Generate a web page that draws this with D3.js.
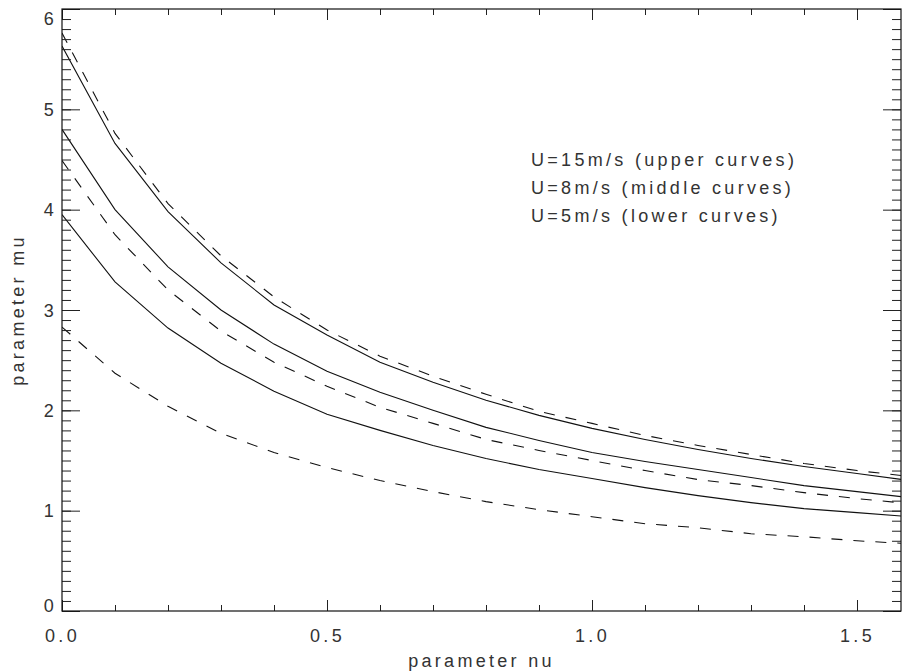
<!DOCTYPE html>
<html lang="en">
	<head>
		<meta charset="utf-8">
		<title>parameter mu vs nu</title>
		<script type="text/javascript" src="https://cdn.jsdelivr.net/npm/d3@7/dist/d3.min.js"></script>
		<style type="text/css">
			body { margin: 0; background: #fff; }
			text { font-family: "Liberation Sans", Arial, sans-serif; font-size: 18px; fill: #333; letter-spacing: 3.3px; }
		</style>
	</head>

	<body>
        <script type="text/javascript">

            // chart width and height
			var w = 902;
			var h = 671;
			var pLeft = 62, pRight = 901, pTop = 9, pBottom = 611;

            // data
            var nu = [0, 0.1, 0.2, 0.3, 0.4, 0.5, 0.6, 0.7, 0.8, 0.9, 1.0, 1.1, 1.2, 1.3, 1.4, 1.5, 1.6];
            var upperSolid  = [5.63, 4.66, 3.98, 3.47, 3.05, 2.75, 2.48, 2.28, 2.10, 1.95, 1.82, 1.71, 1.61, 1.52, 1.44, 1.37, 1.30];
            var upperDashed = [5.76, 4.76, 4.06, 3.54, 3.13, 2.80, 2.54, 2.34, 2.16, 1.99, 1.87, 1.75, 1.65, 1.56, 1.47, 1.40, 1.34];
            var midSolid    = [4.80, 4.00, 3.43, 3.00, 2.66, 2.39, 2.18, 2.00, 1.83, 1.70, 1.58, 1.49, 1.41, 1.33, 1.25, 1.19, 1.13];
            var midDashed   = [4.49, 3.75, 3.20, 2.79, 2.48, 2.24, 2.03, 1.87, 1.71, 1.60, 1.50, 1.40, 1.31, 1.25, 1.18, 1.12, 1.07];
            var lowSolid    = [3.95, 3.28, 2.82, 2.47, 2.19, 1.96, 1.80, 1.65, 1.52, 1.41, 1.32, 1.23, 1.15, 1.08, 1.02, 0.98, 0.94];
            var lowDashed   = [2.83, 2.37, 2.04, 1.77, 1.58, 1.43, 1.30, 1.19, 1.09, 1.01, 0.94, 0.87, 0.83, 0.77, 0.74, 0.70, 0.67];

            var xTicks = [0, 0.5, 1.0, 1.5];
            var yTicks = [0, 1, 2, 3, 4, 5, 6];
            var legendLines = ["U=15m/s (upper curves)", "U=8m/s (middle curves)", "U=5m/s (lower curves)"];

            var series = [
                { values: upperSolid, dashed: false },
                { values: upperDashed, dashed: true },
                { values: midSolid, dashed: false },
                { values: midDashed, dashed: true },
                { values: lowSolid, dashed: false },
                { values: lowDashed, dashed: true }
            ];

            var xScale = d3.scaleLinear().domain([0, 1.583]).range([pLeft, pRight]);
            var yScale = d3.scaleLinear().domain([0, 6]).range([pBottom, pTop]);

			var svg = d3.select("body")
						.append("svg")
						.attr("width", w)
						.attr("height", h);

            svg.append("clipPath").attr("id", "plotclip")
                .append("rect")
                .attr("x", pLeft).attr("y", pTop)
                .attr("width", pRight - pLeft).attr("height", pBottom - pTop);

            // curves
            var line = d3.line()
                .x(function(d, i) { return xScale(nu[i]); })
                .y(function(d) { return yScale(d); });

            svg.append("g")
                .attr("clip-path", "url(#plotclip)")
                .selectAll("path")
                .data(series)
                .enter()
                .append("path")
                .attr("d", function(d) { return line(d.values); })
                .attr("fill", "none")
                .attr("stroke", "#111")
                .attr("stroke-width", 1.1)
                .attr("stroke-dasharray", function(d) { return d.dashed ? "11,11" : null; });

            // axes: ticks pointing inward on all four sides
            var xMinor = d3.range(0, 16).map(function(i) { return i / 10; });
            var yMinor = d3.range(0, 61).map(function(i) { return i / 10; });

            function styleAxis(g) {
                g.select(".domain").remove();
                g.selectAll("line").attr("stroke", "#222").attr("stroke-width", 1);
            }

            svg.append("g").attr("transform", "translate(0," + pBottom + ")")
                .call(d3.axisBottom(xScale).tickValues(xMinor).tickSize(-6).tickFormat(""))
                .call(styleAxis);
            svg.append("g").attr("transform", "translate(0," + pBottom + ")")
                .call(d3.axisBottom(xScale).tickValues(xTicks).tickSize(-11)
                    .tickFormat(d3.format(".1f")))
                .call(styleAxis)
                .selectAll("text").attr("dy", null).attr("y", 31);

            svg.append("g").attr("transform", "translate(0," + pTop + ")")
                .call(d3.axisTop(xScale).tickValues(xMinor).tickSize(-6).tickFormat(""))
                .call(styleAxis);
            svg.append("g").attr("transform", "translate(0," + pTop + ")")
                .call(d3.axisTop(xScale).tickValues(xTicks).tickSize(-11).tickFormat(""))
                .call(styleAxis);

            svg.append("g").attr("transform", "translate(" + pLeft + ",0)")
                .call(d3.axisLeft(yScale).tickValues(yMinor).tickSize(-9).tickFormat(""))
                .call(styleAxis);
            var yl = svg.append("g").attr("transform", "translate(" + pLeft + ",0)")
                .call(d3.axisLeft(yScale).tickValues(yTicks).tickSize(-18).tickFormat(d3.format("d")))
                .call(styleAxis);
            yl.selectAll(".tick text")
                .attr("x", -5)
                .attr("dy", "0.35em")
                .attr("y", function(d) {
                    // keep end labels inside the frame, like the original
                    var p = yScale(d);
                    return Math.min(Math.max(p, pTop + 9), pBottom - 6) - p;
                });

            svg.append("g").attr("transform", "translate(" + pRight + ",0)")
                .call(d3.axisRight(yScale).tickValues(yMinor).tickSize(-9).tickFormat(""))
                .call(styleAxis);
            svg.append("g").attr("transform", "translate(" + pRight + ",0)")
                .call(d3.axisRight(yScale).tickValues(yTicks).tickSize(-18).tickFormat(""))
                .call(styleAxis);

            svg.selectAll(".tick text")
                .attr("font-family", null).attr("font-size", null)
                .attr("fill", "#333");

            // frame
            svg.append("rect")
                .attr("x", pLeft).attr("y", pTop)
                .attr("width", pRight - pLeft).attr("height", pBottom - pTop)
                .attr("fill", "none")
                .attr("stroke", "#111")
                .attr("stroke-width", 1.2);

            // axis titles
            svg.append("text")
                .attr("x", (pLeft + pRight) / 2)
                .attr("y", 667)
                .attr("text-anchor", "middle")
                .text("parameter nu");

            svg.append("text")
                .attr("transform", "translate(24," + ((pTop + pBottom) / 2) + ") rotate(-90)")
                .attr("text-anchor", "middle")
                .text("parameter mu");

            // legend text
            svg.selectAll(".legend")
                .data(legendLines)
                .enter()
                .append("text")
                .attr("class", "legend")
                .attr("x", 531)
                .attr("y", function(d, i) { return 166 + i * 28; })
                .text(function(d) { return d; });

        </script>
	</body>
</html>
